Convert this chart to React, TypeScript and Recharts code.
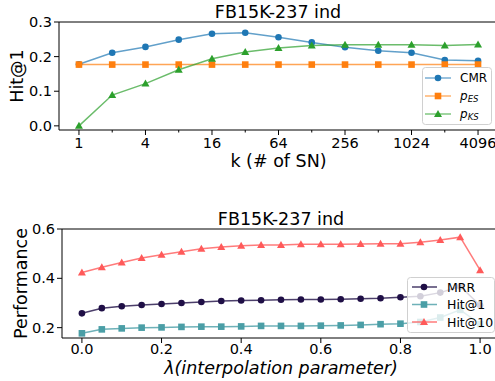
import React from 'react';
import { LineChart, Line, XAxis, YAxis, Legend, Label, ReferenceLine } from 'recharts';

// top panel: k = 2^i, i = 0..12
const kIndex = [0, 1, 2, 3, 4, 5, 6, 7, 8, 9, 10, 11, 12];
const kLabels = ['1', '2', '4', '8', '16', '32', '64', '128', '256', '512', '1024', '2048', '4096'];
const cmr = [0.178, 0.211, 0.228, 0.249, 0.266, 0.269, 0.256, 0.241, 0.227, 0.217, 0.211, 0.19, 0.188];
const pES = [0.177, 0.177, 0.177, 0.177, 0.177, 0.177, 0.177, 0.177, 0.177, 0.177, 0.177, 0.177, 0.177];
const pKS = [0.0, 0.089, 0.122, 0.162, 0.194, 0.213, 0.225, 0.232, 0.234, 0.234, 0.234, 0.232, 0.235];

// bottom panel: lambda sweep
const lambdas = [0, 0.05, 0.1, 0.15, 0.2, 0.25, 0.3, 0.35, 0.4, 0.45, 0.5, 0.55, 0.6, 0.65, 0.7, 0.75, 0.8, 0.85, 0.9, 0.95, 1.0];
const mrr = [0.258, 0.279, 0.287, 0.292, 0.296, 0.3, 0.304, 0.308, 0.31, 0.311, 0.313, 0.314, 0.314, 0.315, 0.317, 0.319, 0.323, 0.327, 0.342, 0.367, 0.291];
const hit1 = [0.177, 0.193, 0.197, 0.2, 0.201, 0.203, 0.204, 0.204, 0.205, 0.207, 0.207, 0.207, 0.208, 0.209, 0.211, 0.214, 0.216, 0.223, 0.241, 0.272, 0.214];
const hit10 = [0.424, 0.445, 0.464, 0.482, 0.496, 0.508, 0.52, 0.527, 0.532, 0.535, 0.535, 0.538, 0.538, 0.538, 0.539, 0.54, 0.54, 0.546, 0.555, 0.567, 0.433];

const topData = kIndex.map((k, i) => ({ k, cmr: cmr[i], pES: pES[i], pKS: pKS[i] }));
const bottomData = lambdas.map((l, i) => ({ l, mrr: mrr[i], hit1: hit1[i], hit10: hit10[i] }));

const FONT = 'DejaVu Sans';

type Shape = 'circle' | 'square' | 'triangle';

const marker = (shape: Shape, cx: number, cy: number, color: string, key?: any, s = 1) => {
  if (shape === 'circle') return <circle key={key} cx={cx} cy={cy} r={3.3 * s} fill={color} />;
  if (shape === 'square') {
    const h = 3.3 * s;
    return <rect key={key} x={cx - h} y={cy - h} width={2 * h} height={2 * h} fill={color} />;
  }
  const h = 4 * s;
  return <polygon key={key} points={`${cx},${cy - h} ${cx - h},${cy + h * 0.75} ${cx + h},${cy + h * 0.75}`} fill={color} />;
};

const dotFn = (shape: Shape, color: string) => (p: any) => marker(shape, p.cx, p.cy, color, p.index);

const yLabel = (text: string, x: number) => (props: any) => {
  const vb = props.viewBox;
  const cy = vb.y + vb.height / 2;
  return (
    <text x={x} y={cy} transform={`rotate(-90 ${x} ${cy})`} textAnchor="middle" dominantBaseline="central" fontSize={17.5} fontFamily={FONT} fill="#000">
      {text}
    </text>
  );
};

const xLabel = (text: string, y: number, italic = false) => (props: any) => {
  const vb = props.viewBox;
  const cx = vb.x + vb.width / 2;
  return (
    <text x={cx} y={y} textAnchor="middle" dominantBaseline="central" fontSize={17.5} fontFamily={FONT} fontStyle={italic ? 'italic' : 'normal'} fill="#000">
      {text}
    </text>
  );
};

const KTick = (props: any) => {
  const { x, y, payload } = props;
  const major = payload.value % 2 === 0;
  return (
    <g>
      <line x1={x} x2={x} y1={y} y2={y + (major ? 5 : 2.5)} stroke="#000" strokeWidth={1} />
      {major && (
        <text x={x} y={y + 7.5} dy="0.71em" textAnchor="middle" fontSize={14.5} fontFamily={FONT} fill="#000">
          {kLabels[payload.value]}
        </text>
      )}
    </g>
  );
};

const topSeries = [
  { name: 'CMR', color: '#1f77b4', shape: 'circle' as Shape },
  { name: 'pES', color: '#ff7f0e', shape: 'square' as Shape },
  { name: 'pKS', color: '#2ca02c', shape: 'triangle' as Shape },
];

const bottomSeries = [
  { name: 'MRR', color: '#1f0f46', shape: 'circle' as Shape },
  { name: 'Hit@1', color: '#4a9ea6', shape: 'square' as Shape },
  { name: 'Hit@10', color: '#ff5a5a', shape: 'triangle' as Shape },
];

const TopLegend = () => (
  <svg width={71} height={59} style={{ display: 'block' }}>
    <rect x={0.5} y={0.5} width={69} height={57} rx={3} fill="#fff" fillOpacity={0.8} stroke="#d0d0d0" />
    {topSeries.map((s, i) => {
      const y = 11 + i * 18;
      return (
        <g key={s.name}>
          <line x1={3} x2={29} y1={y} y2={y} stroke={s.color} strokeOpacity={0.6} strokeWidth={1.5} />
          {marker(s.shape, 16, y, s.color)}
          {i === 0 ? (
            <text x={38} y={y} dominantBaseline="central" fontSize={12} fontFamily={FONT} fill="#000">CMR</text>
          ) : (
            <text x={38} y={y} dominantBaseline="central" fontSize={12} fontFamily={FONT} fill="#000">
              <tspan fontStyle="italic">p</tspan>
              <tspan fontStyle="italic" fontSize={8.5} dy={3}>{i === 1 ? 'ES' : 'KS'}</tspan>
            </text>
          )}
        </g>
      );
    })}
  </svg>
);

const BottomLegend = () => (
  <svg width={89} height={57} style={{ display: 'block' }}>
    <rect x={0.5} y={0.5} width={87} height={55} rx={3} fill="#fff" fillOpacity={0.8} stroke="#d0d0d0" />
    {bottomSeries.map((s, i) => {
      const y = 10 + i * 17.5;
      return (
        <g key={s.name}>
          <line x1={5} x2={30} y1={y} y2={y} stroke={s.color} strokeOpacity={0.8} strokeWidth={1.5} />
          {marker(s.shape, 17, y, s.color)}
          <text x={40} y={y} dominantBaseline="central" fontSize={12.5} fontFamily={FONT} fill="#000">{s.name}</text>
        </g>
      );
    })}
  </svg>
);

const axisProps = {
  stroke: '#000',
  tick: { fill: '#000', fontSize: 14.5, fontFamily: FONT },
  tickLine: { stroke: '#000' },
  tickSize: 5,
};

export default function App() {
  return (
    <div style={{ position: 'absolute', left: 0, top: 0, width: 495, height: 381, overflow: 'hidden', background: '#fff', fontFamily: FONT }}>
      <div style={{ position: 'absolute', left: 0, top: 1, width: 556, textAlign: 'center', fontSize: 17.5, lineHeight: '22px' }}>
        FB15K-237 ind
      </div>
      <div style={{ position: 'absolute', left: 0, top: 0 }}>
        <LineChart width={510} height={190} data={topData} margin={{ top: 22, right: 12, bottom: 0, left: 0 }}>
          <XAxis dataKey="k" type="number" domain={[-0.6, 12.6]} ticks={kIndex} interval={0} stroke="#000"
            tickSize={0} tickMargin={0} tick={<KTick />} height={60}>
            <Label content={xLabel('k (# of SN)', 161)} />
          </XAxis>
          <YAxis type="number" domain={[-0.012, 0.3]} ticks={[0, 0.1, 0.2, 0.3]} tickFormatter={(v: number) => v.toFixed(1)}
            width={59} tickMargin={2} allowDataOverflow {...axisProps}>
            <Label content={yLabel('Hit@1', 17)} />
          </YAxis>
          <ReferenceLine y={0.3} stroke="#000" strokeWidth={1} />
          {topSeries.map((s) => (
            <Line key={s.name} dataKey={s.name === 'CMR' ? 'cmr' : s.name} stroke={s.color} strokeOpacity={0.7} strokeWidth={1.5}
              dot={dotFn(s.shape, s.color)} activeDot={false} isAnimationActive={false} />
          ))}
          <Legend layout="vertical" align="center" verticalAlign="middle" content={() => <TopLegend />}
            wrapperStyle={{ position: 'absolute', left: 422, top: 67, width: 71, height: 59 }} />
        </LineChart>
      </div>
      <div style={{ position: 'absolute', left: 0, top: 208, width: 562, textAlign: 'center', fontSize: 17.5, lineHeight: '22px' }}>
        FB15K-237 ind
      </div>
      <div style={{ position: 'absolute', left: 0, top: 190 }}>
        <LineChart width={510} height={191} data={bottomData} margin={{ top: 39, right: 10, bottom: 0, left: 0 }}>
          <XAxis dataKey="l" type="number" domain={[-0.05, 1.05]} ticks={[0, 0.2, 0.4, 0.6, 0.8, 1.0]}
            tickFormatter={(v: number) => v.toFixed(1)} interval={0} height={43} tickMargin={1} {...axisProps}>
            <Label content={xLabel('λ(interpolation parameter)', 178, true)} />
          </XAxis>
          <YAxis type="number" domain={[0.158, 0.6]} ticks={[0.2, 0.4, 0.6]} tickFormatter={(v: number) => v.toFixed(1)}
            width={62} tickMargin={2} allowDataOverflow {...axisProps}>
            <Label content={yLabel('Performance', 21)} />
          </YAxis>
          <ReferenceLine y={0.6} stroke="#000" strokeWidth={1} />
          {bottomSeries.map((s) => (
            <Line key={s.name} dataKey={s.name === 'MRR' ? 'mrr' : s.name === 'Hit@1' ? 'hit1' : 'hit10'} stroke={s.color}
              strokeOpacity={0.8} strokeWidth={1.5} dot={dotFn(s.shape, s.color)} activeDot={false} isAnimationActive={false} />
          ))}
          <Legend layout="vertical" align="center" verticalAlign="middle" content={() => <BottomLegend />}
            wrapperStyle={{ position: 'absolute', left: 407, top: 87, width: 89, height: 57 }} />
        </LineChart>
      </div>
    </div>
  );
}
